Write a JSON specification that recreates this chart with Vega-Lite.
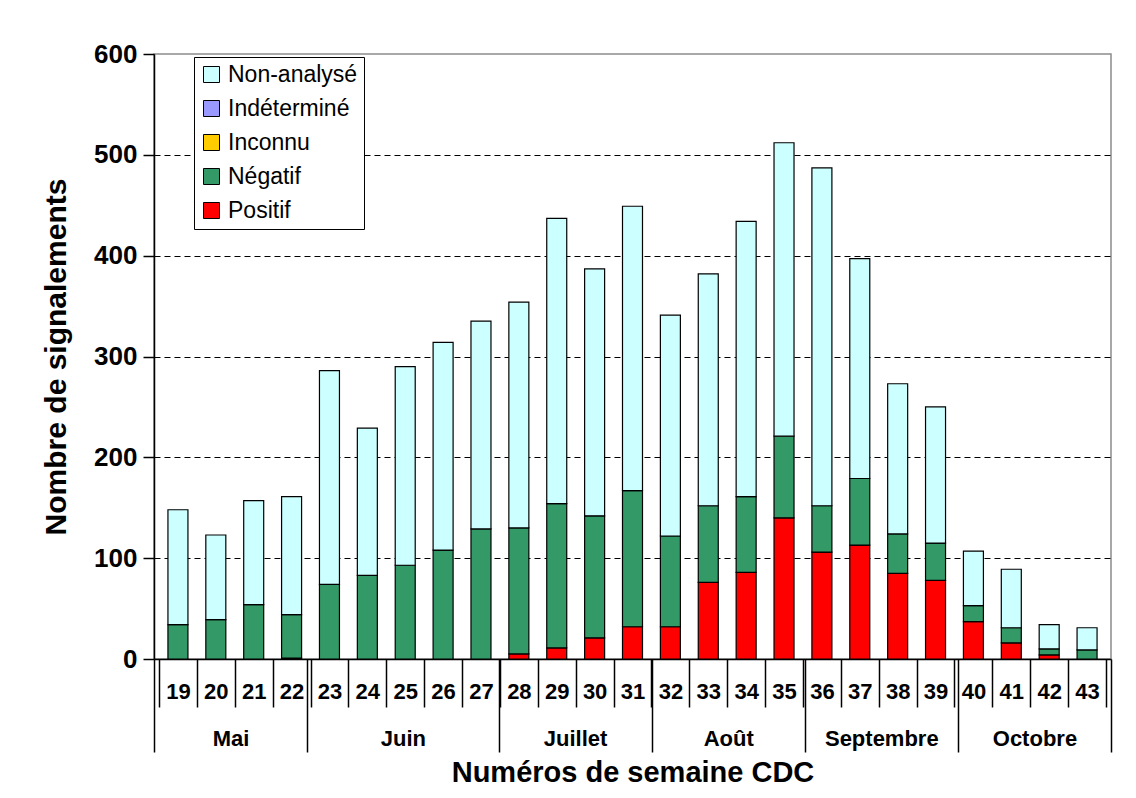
{
  "$schema": "https://vega.github.io/schema/vega-lite/v6.json",
  "autosize": {"type": "none"},
  "width": 957,
  "height": 605,
  "padding": {"left": 154, "top": 54, "right": 25, "bottom": 139},
  "background": "white",
  "config": {
    "font": "Liberation Sans",
    "view": {"stroke": "#8c8c8c", "strokeWidth": 1.5}
  },
  "datasets": {
    "signalements": [
      {"semaine": 19, "statut": "Négatif", "n": 34, "ordre": 2},
      {"semaine": 19, "statut": "Non-analysé", "n": 114, "ordre": 5},
      {"semaine": 20, "statut": "Négatif", "n": 39, "ordre": 2},
      {"semaine": 20, "statut": "Non-analysé", "n": 84, "ordre": 5},
      {"semaine": 21, "statut": "Négatif", "n": 54, "ordre": 2},
      {"semaine": 21, "statut": "Non-analysé", "n": 103, "ordre": 5},
      {"semaine": 22, "statut": "Positif", "n": 1, "ordre": 1},
      {"semaine": 22, "statut": "Négatif", "n": 43, "ordre": 2},
      {"semaine": 22, "statut": "Non-analysé", "n": 117, "ordre": 5},
      {"semaine": 23, "statut": "Négatif", "n": 74, "ordre": 2},
      {"semaine": 23, "statut": "Non-analysé", "n": 212, "ordre": 5},
      {"semaine": 24, "statut": "Négatif", "n": 83, "ordre": 2},
      {"semaine": 24, "statut": "Non-analysé", "n": 146, "ordre": 5},
      {"semaine": 25, "statut": "Négatif", "n": 93, "ordre": 2},
      {"semaine": 25, "statut": "Non-analysé", "n": 197, "ordre": 5},
      {"semaine": 26, "statut": "Négatif", "n": 108, "ordre": 2},
      {"semaine": 26, "statut": "Non-analysé", "n": 206, "ordre": 5},
      {"semaine": 27, "statut": "Négatif", "n": 129, "ordre": 2},
      {"semaine": 27, "statut": "Non-analysé", "n": 206, "ordre": 5},
      {"semaine": 28, "statut": "Positif", "n": 5, "ordre": 1},
      {"semaine": 28, "statut": "Négatif", "n": 125, "ordre": 2},
      {"semaine": 28, "statut": "Non-analysé", "n": 224, "ordre": 5},
      {"semaine": 29, "statut": "Positif", "n": 11, "ordre": 1},
      {"semaine": 29, "statut": "Négatif", "n": 143, "ordre": 2},
      {"semaine": 29, "statut": "Non-analysé", "n": 283, "ordre": 5},
      {"semaine": 30, "statut": "Positif", "n": 21, "ordre": 1},
      {"semaine": 30, "statut": "Négatif", "n": 121, "ordre": 2},
      {"semaine": 30, "statut": "Non-analysé", "n": 245, "ordre": 5},
      {"semaine": 31, "statut": "Positif", "n": 32, "ordre": 1},
      {"semaine": 31, "statut": "Négatif", "n": 135, "ordre": 2},
      {"semaine": 31, "statut": "Non-analysé", "n": 282, "ordre": 5},
      {"semaine": 32, "statut": "Positif", "n": 32, "ordre": 1},
      {"semaine": 32, "statut": "Négatif", "n": 90, "ordre": 2},
      {"semaine": 32, "statut": "Non-analysé", "n": 219, "ordre": 5},
      {"semaine": 33, "statut": "Positif", "n": 76, "ordre": 1},
      {"semaine": 33, "statut": "Négatif", "n": 76, "ordre": 2},
      {"semaine": 33, "statut": "Non-analysé", "n": 230, "ordre": 5},
      {"semaine": 34, "statut": "Positif", "n": 86, "ordre": 1},
      {"semaine": 34, "statut": "Négatif", "n": 75, "ordre": 2},
      {"semaine": 34, "statut": "Non-analysé", "n": 273, "ordre": 5},
      {"semaine": 35, "statut": "Positif", "n": 140, "ordre": 1},
      {"semaine": 35, "statut": "Négatif", "n": 81, "ordre": 2},
      {"semaine": 35, "statut": "Non-analysé", "n": 291, "ordre": 5},
      {"semaine": 36, "statut": "Positif", "n": 106, "ordre": 1},
      {"semaine": 36, "statut": "Négatif", "n": 46, "ordre": 2},
      {"semaine": 36, "statut": "Non-analysé", "n": 335, "ordre": 5},
      {"semaine": 37, "statut": "Positif", "n": 113, "ordre": 1},
      {"semaine": 37, "statut": "Négatif", "n": 66, "ordre": 2},
      {"semaine": 37, "statut": "Non-analysé", "n": 218, "ordre": 5},
      {"semaine": 38, "statut": "Positif", "n": 85, "ordre": 1},
      {"semaine": 38, "statut": "Négatif", "n": 39, "ordre": 2},
      {"semaine": 38, "statut": "Non-analysé", "n": 149, "ordre": 5},
      {"semaine": 39, "statut": "Positif", "n": 78, "ordre": 1},
      {"semaine": 39, "statut": "Négatif", "n": 37, "ordre": 2},
      {"semaine": 39, "statut": "Non-analysé", "n": 135, "ordre": 5},
      {"semaine": 40, "statut": "Positif", "n": 37, "ordre": 1},
      {"semaine": 40, "statut": "Négatif", "n": 16, "ordre": 2},
      {"semaine": 40, "statut": "Non-analysé", "n": 54, "ordre": 5},
      {"semaine": 41, "statut": "Positif", "n": 16, "ordre": 1},
      {"semaine": 41, "statut": "Négatif", "n": 15, "ordre": 2},
      {"semaine": 41, "statut": "Non-analysé", "n": 58, "ordre": 5},
      {"semaine": 42, "statut": "Positif", "n": 4, "ordre": 1},
      {"semaine": 42, "statut": "Négatif", "n": 6, "ordre": 2},
      {"semaine": 42, "statut": "Non-analysé", "n": 24, "ordre": 5},
      {"semaine": 43, "statut": "Négatif", "n": 9, "ordre": 2},
      {"semaine": 43, "statut": "Non-analysé", "n": 22, "ordre": 5}
    ],
    "mois": [
      {"mois": "Mai", "debut": 18.5, "fin": 22.5},
      {"mois": "Juin", "debut": 22.5, "fin": 27.5},
      {"mois": "Juillet", "debut": 27.5, "fin": 31.5},
      {"mois": "Août", "debut": 31.5, "fin": 35.5},
      {"mois": "Septembre", "debut": 35.5, "fin": 39.5},
      {"mois": "Octobre", "debut": 39.5, "fin": 43.5}
    ]
  },
  "layer": [
    {
      "data": {"name": "signalements"},
      "mark": {"type": "bar", "orient": "vertical", "width": 20, "stroke": "black", "strokeWidth": 1.2},
      "encoding": {
        "x": {
          "field": "semaine",
          "type": "quantitative",
          "scale": {"domain": [18.5, 43.5], "nice": false, "zero": false},
          "axis": {
            "orient": "bottom",
            "title": null,
            "values": [18.5, 19, 19.5, 20, 20.5, 21, 21.5, 22, 22.5, 23, 23.5, 24, 24.5, 25, 25.5, 26, 26.5, 27, 27.5, 28, 28.5, 29, 29.5, 30, 30.5, 31, 31.5, 32, 32.5, 33, 33.5, 34, 34.5, 35, 35.5, 36, 36.5, 37, 37.5, 38, 38.5, 39, 39.5, 40, 40.5, 41, 41.5, 42, 42.5, 43, 43.5],
            "labelExpr": "datum.value % 1 == 0 ? '' + datum.value : ''",
            "labelOverlap": false,
            "labelFlush": false,
            "labelBound": false,
            "labelFont": "Liberation Sans",
            "labelFontSize": 22,
            "labelFontWeight": "bold",
            "labelColor": "black",
            "labelBaseline": "middle",
            "labelPadding": -16,
            "tickSize": 48,
            "tickColor": "black",
            "tickWidth": 1.5,
            "tickOpacity": {"condition": {"test": "datum.value % 1 != 0", "value": 1}, "value": 0},
            "domainColor": "black",
            "domainWidth": 1.5,
            "grid": false
          }
        },
        "y": {
          "field": "n",
          "type": "quantitative",
          "stack": "zero",
          "scale": {"domain": [0, 600], "nice": false},
          "axis": {
            "title": "Nombre de signalements",
            "titleFont": "Liberation Sans",
            "titleFontSize": 30,
            "titleFontWeight": "bold",
            "titleColor": "black",
            "titlePadding": 22,
            "values": [0, 100, 200, 300, 400, 500, 600],
            "labelFont": "Liberation Sans",
            "labelFontSize": 26,
            "labelFontWeight": "bold",
            "labelColor": "black",
            "labelPadding": 6,
            "tickSize": 11,
            "tickColor": "black",
            "tickWidth": 1.5,
            "domainColor": "black",
            "domainWidth": 1.5,
            "grid": true,
            "gridColor": "black",
            "gridDash": [6, 4],
            "gridWidth": 1.2,
            "gridOpacity": {"condition": {"test": "datum.value == 0 || datum.value == 600", "value": 0}, "value": 1}
          }
        },
        "color": {
          "field": "statut",
          "type": "nominal",
          "scale": {
            "domain": ["Non-analysé", "Indéterminé", "Inconnu", "Négatif", "Positif"],
            "range": ["#CCFFFF", "#9999FF", "#FFCC00", "#339966", "#FF0000"]
          },
          "legend": {
            "title": null,
            "orient": "none",
            "legendX": 40,
            "legendY": 3,
            "direction": "vertical",
            "fillColor": "white",
            "strokeColor": "black",
            "padding": 6,
            "cornerRadius": 0,
            "symbolType": "square",
            "symbolSize": 256,
            "symbolStrokeColor": "black",
            "symbolStrokeWidth": 1,
            "symbolOpacity": 1,
            "labelFont": "Liberation Sans",
            "labelFontSize": 23,
            "labelColor": "black",
            "labelOffset": 5,
            "rowPadding": 10
          }
        },
        "order": {"field": "ordre", "type": "quantitative", "sort": "ascending"}
      }
    },
    {
      "data": {"name": "mois"},
      "mark": {"type": "rect", "opacity": 0},
      "encoding": {
        "x": {
          "field": "debut",
          "type": "quantitative",
          "scale": {"domain": [18.5, 43.5], "nice": false, "zero": false},
          "axis": {
            "orient": "bottom",
            "title": "Numéros de semaine CDC",
            "titleFont": "Liberation Sans",
            "titleFontSize": 29,
            "titleFontWeight": "bold",
            "titleColor": "black",
            "titlePadding": 6,
            "values": [18.5, 20.5, 22.5, 25, 27.5, 29.5, 31.5, 33.5, 35.5, 37.5, 39.5, 41.5, 43.5],
            "labelExpr": "datum.value == 20.5 ? 'Mai' : datum.value == 25 ? 'Juin' : datum.value == 29.5 ? 'Juillet' : datum.value == 33.5 ? 'Août' : datum.value == 37.5 ? 'Septembre' : datum.value == 41.5 ? 'Octobre' : ''",
            "labelOverlap": false,
            "labelFlush": false,
            "labelBound": false,
            "labelFont": "Liberation Sans",
            "labelFontSize": 22,
            "labelFontWeight": "bold",
            "labelColor": "black",
            "labelBaseline": "middle",
            "labelPadding": -14,
            "tickSize": 93,
            "tickColor": "black",
            "tickWidth": 1.5,
            "tickOpacity": {"condition": {"test": "indexof([18.5, 22.5, 27.5, 31.5, 35.5, 39.5, 43.5], datum.value) >= 0", "value": 1}, "value": 0},
            "domain": false,
            "grid": false
          }
        },
        "x2": {"field": "fin"}
      }
    }
  ],
  "resolve": {"scale": {"x": "independent"}, "axis": {"x": "independent"}}
}
